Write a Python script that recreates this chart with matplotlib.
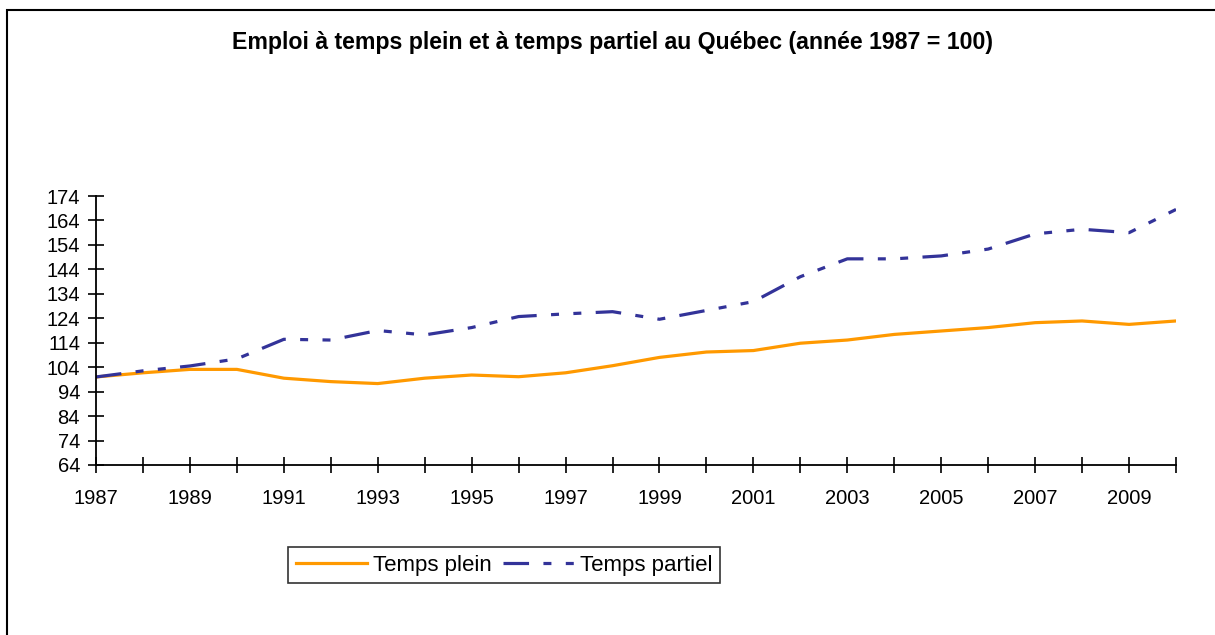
import matplotlib.pyplot as plt
from matplotlib.patches import Rectangle

plt.rcParams['font.family'] = ['Liberation Sans', 'DejaVu Sans']

# données (indice, 1987 = 100)
annees = list(range(1987, 2011))
temps_plein = [100.0, 101.7, 103.1, 103.1, 99.5, 98.1, 97.3, 99.5, 100.8, 100.1,
               101.7, 104.6, 108.0, 110.2, 110.8, 113.8, 115.1, 117.4, 118.8, 120.2,
               122.2, 122.9, 121.5, 122.9]
temps_partiel = [100.0, 102.5, 104.5, 107.4, 115.4, 115.1, 119.0, 117.2, 120.2, 124.7,
                 125.8, 126.7, 123.6, 127.2, 130.8, 141.0, 148.3, 148.3, 149.5, 152.3,
                 158.5, 160.4, 159.0, 168.5]
yticks = list(range(64, 175, 10))
xlabels = list(range(1987, 2011, 2))

fig = plt.figure(figsize=(12.15, 6.35), dpi=100)
ax = fig.add_axes([96/1215, 1-465/635, (1176-96)/1215, (465-196)/635])

# cadre extérieur
fig.patches.append(Rectangle((7/1215, -0.05), 1.2, 1-10/635+0.05, transform=fig.transFigure,
                             fill=False, edgecolor='black', linewidth=1.5))

ax.plot(annees, temps_plein, color='#FF9900', lw=2.3, label='Temps plein')
ax.plot(annees, temps_partiel, color='#333399', lw=2.3, label='Temps partiel',
        dashes=(8, 4.5, 2.5, 4.5, 2.5, 4.5))

ax.set_xlim(1987, 2010)
ax.set_ylim(64, 174)
ax.set_yticks(yticks)
ax.set_xticks(annees)
ax.set_xticklabels([str(a) if a in xlabels else '' for a in annees])
ax.spines['top'].set_visible(False)
ax.spines['right'].set_visible(False)
ax.spines['left'].set_linewidth(1.3)
ax.spines['bottom'].set_linewidth(1.3)
ax.tick_params(axis='both', direction='inout', length=11, width=1.2, labelsize=14.5)
ax.tick_params(axis='y', pad=6)
ax.tick_params(axis='x', pad=12)

fig.text(613/1215, 1-43/635, 'Emploi à temps plein et à temps partiel au Québec (année 1987 = 100)',
         ha='center', va='center', fontsize=16.7, fontweight='bold')

leg = fig.legend(loc='center', bbox_to_anchor=(504/1215, 1-565/635), ncol=2,
                 fontsize=16, frameon=True, fancybox=False, edgecolor='black',
                 handlelength=3.2, handletextpad=0.27, columnspacing=0.5, borderpad=0.35)
leg.get_frame().set_linewidth(1.2)

fig.savefig('out.png', dpi=100)
